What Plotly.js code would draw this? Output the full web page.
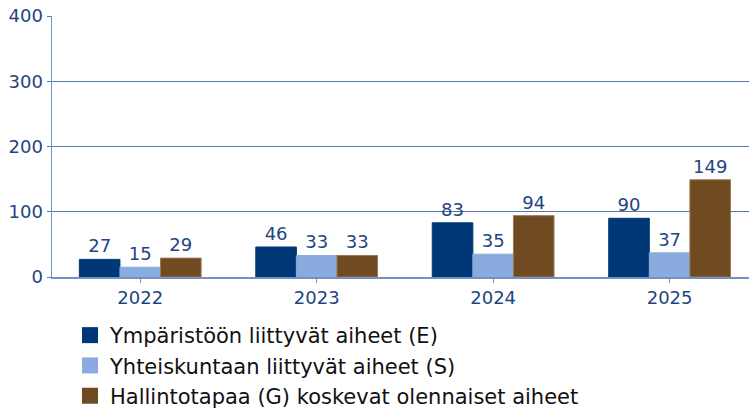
<!DOCTYPE html>
<html><head><meta charset="utf-8">
<script src="https://cdn.plot.ly/plotly-3.0.1.min.js"></script>
<style>body{margin:0;padding:0;background:#fff}#chart{width:749px;height:409px}</style>
</head><body><div id="chart"></div>
<script>
const years = ['2022', '2023', '2024', '2025'];
const seriesNames = ['Ympäristöön liittyvät aiheet (E)', 'Yhteiskuntaan liittyvät aiheet (S)', 'Hallintotapaa (G) koskevat olennaiset aiheet'];
const envValues = [27, 46, 83, 90];
const socValues = [15, 33, 35, 37];
const govValues = [29, 33, 94, 149];
const colors = ['#003777', '#89abdf', '#704b21'];
const lineColors = ['#003777', '#89abdf', '#9a7a55'];
const font = 'DejaVu Sans, sans-serif';
const labelColor = '#1f4580';
const vals = [envValues, socValues, govValues];
const data = vals.map((v, i) => ({
  type: 'bar', x: years, y: v, name: seriesNames[i], showlegend: false,
  marker: {color: colors[i], line: {color: lineColors[i], width: 1}},
  text: v.map(String), textposition: 'outside', cliponaxis: false,
  textfont: {family: font, size: 18, color: labelColor},
  hoverinfo: 'none'
}));
// legend entries (square symbols sized like the reference)
vals.forEach((v, i) => data.push({
  type: 'scatter', mode: 'markers', x: [null], y: [null], name: seriesNames[i],
  marker: {symbol: 'square', size: 16, color: colors[i]}, hoverinfo: 'none', showlegend: true
}));
const layout = {
  width: 749, height: 409,
  margin: {l: 52, r: 0, t: 16, b: 132, autoexpand: false},
  paper_bgcolor: '#fff', plot_bgcolor: '#fff',
  barmode: 'group', bargap: 0.31, bargroupgap: 0,
  font: {family: font, size: 18, color: labelColor},
  xaxis: {type: 'category', range: [-0.5, 3.45], showgrid: false, showline: true, linecolor: '#7391c2', linewidth: 1.5,
    ticks: 'outside', ticklen: 4, tickcolor: '#7391c2', tickfont: {family: font, size: 18, color: labelColor}, zeroline: false},
  yaxis: {range: [0, 400], dtick: 100, showgrid: true, gridcolor: '#5577ad', gridwidth: 1,
    showline: true, linecolor: '#7391c2', linewidth: 1.5, ticks: 'outside', ticklen: 4, tickcolor: '#5577ad',
    tickfont: {family: font, size: 18, color: labelColor}, zeroline: false},
  showlegend: true,
  legend: {orientation: 'v', x: 18/697, y: -0.1455, xanchor: 'left', yanchor: 'top',
    font: {family: font, size: 21, color: '#111'}, traceorder: 'normal', itemclick: false},
};
Plotly.newPlot('chart', data, layout, {displayModeBar: false, staticPlot: true});
</script></body></html>
